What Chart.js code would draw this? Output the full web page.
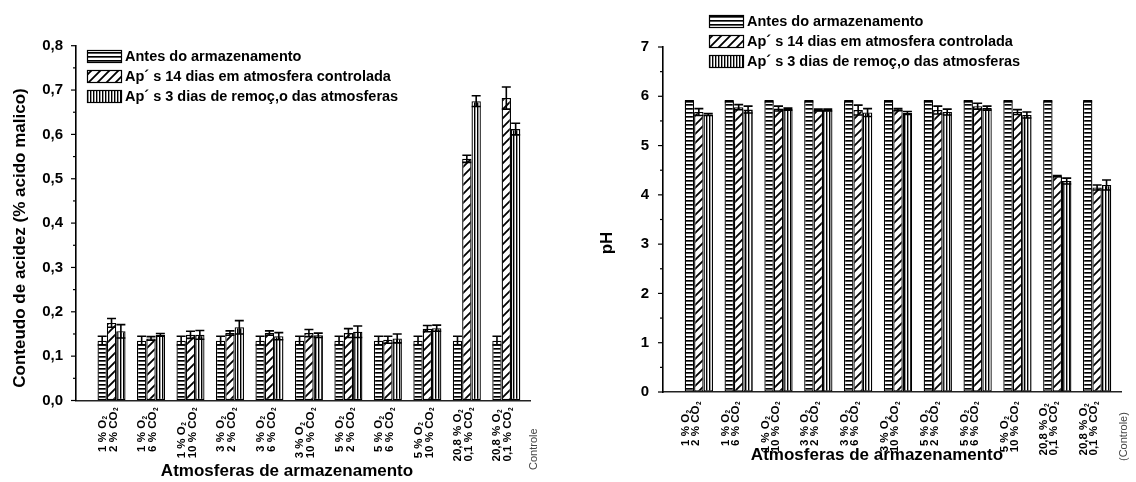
<!DOCTYPE html>
<html lang="pt">
<head>
<meta charset="UTF-8">
<title>Acidez e pH</title>
<script src="https://cdn.jsdelivr.net/npm/chart.js@4.4.1/dist/chart.umd.min.js"></script>
<style>
  html, body { margin: 0; padding: 0; background: #fff; }
  body { width: 1136px; height: 482px; position: relative; overflow: hidden; }
  .painel { position: absolute; top: 0; width: 568px; height: 482px; }
  #painel-acidez { left: 0; }
  #painel-ph { left: 568px; }
</style>
</head>
<body>
<div class="painel" id="painel-acidez"><canvas id="acidez"></canvas></div>
<div class="painel" id="painel-ph"><canvas id="ph"></canvas></div>

<script>
// categorias (O2 / CO2)
const atmosferas = [
  ['1 % O₂', '2 % CO₂'],
  ['1 % O₂', '6 % CO₂'],
  ['1 % O₂', '10 % CO₂'],
  ['3 % O₂', '2 % CO₂'],
  ['3 % O₂', '6 % CO₂'],
  ['3 % O₂', '10 % CO₂'],
  ['5 % O₂', '2 % CO₂'],
  ['5 % O₂', '6 % CO₂'],
  ['5 % O₂', '10 % CO₂'],
  ['20,8 % O₂', '0,1 % CO₂'],
  ['20,8 % O₂', '0,1 % CO₂']
];
const legendas = [
  'Antes do armazenamento',
  'Ap´ s 14 dias em atmosfera controlada',
  'Ap´ s 3 dias de remoç‚o das atmosferas'
];

// acidez (% acido malico)
const acidezAntes = [0.135, 0.135, 0.135, 0.135, 0.135, 0.135, 0.135, 0.135, 0.135, 0.135, 0.135];
const acidezAntesErro = [0.01, 0.01, 0.01, 0.01, 0.01, 0.01, 0.01, 0.01, 0.01, 0.01, 0.01];
const acidez14 = [0.175, 0.140, 0.148, 0.152, 0.152, 0.152, 0.152, 0.137, 0.162, 0.545, 0.682];
const acidez14Erro = [0.010, 0.004, 0.008, 0.005, 0.005, 0.008, 0.010, 0.008, 0.007, 0.008, 0.025];
const acidez3 = [0.156, 0.148, 0.148, 0.165, 0.145, 0.147, 0.155, 0.140, 0.163, 0.675, 0.612];
const acidez3Erro = [0.015, 0.003, 0.010, 0.015, 0.008, 0.005, 0.013, 0.010, 0.007, 0.012, 0.013];

// pH
const phAntes = [5.9, 5.9, 5.9, 5.9, 5.9, 5.9, 5.9, 5.9, 5.9, 5.9, 5.9];
const phAntesErro = [0.01, 0.01, 0.01, 0.01, 0.01, 0.01, 0.01, 0.01, 0.01, 0.01, 0.01];
const ph14 = [5.68, 5.78, 5.75, 5.72, 5.72, 5.73, 5.72, 5.80, 5.68, 4.38, 4.15];
const ph14Erro = [0.07, 0.05, 0.05, 0.02, 0.10, 0.02, 0.08, 0.06, 0.05, 0.01, 0.05];
const ph3 = [5.63, 5.73, 5.74, 5.72, 5.67, 5.66, 5.68, 5.76, 5.62, 4.28, 4.20];
const ph3Erro = [0.02, 0.07, 0.02, 0.02, 0.08, 0.03, 0.06, 0.04, 0.06, 0.06, 0.10];

const FONTE = '"Liberation Sans", Arial, sans-serif';

// padroes de preenchimento das barras
function padrao(tipo) {
  const c = document.createElement('canvas');
  const g = c.getContext('2d');
  if (tipo === 'h') {
    c.width = 4; c.height = 4;
    g.fillStyle = '#fff'; g.fillRect(0, 0, 4, 4);
    g.fillStyle = '#000'; g.fillRect(0, 0, 4, 1);
    g.fillStyle = '#555'; g.fillRect(0, 1, 4, 1);
  } else if (tipo === 'd') {
    c.width = 9; c.height = 9;
    g.fillStyle = '#fff'; g.fillRect(0, 0, 9, 9);
    g.strokeStyle = '#000'; g.lineWidth = 1.8;
    g.beginPath();
    g.moveTo(-1, 10); g.lineTo(10, -1);
    g.moveTo(-1, 1); g.lineTo(1, -1);
    g.moveTo(8, 10); g.lineTo(10, 8);
    g.stroke();
  } else {
    c.width = 3; c.height = 3;
    g.fillStyle = '#fff'; g.fillRect(0, 0, 3, 3);
    g.fillStyle = '#000'; g.fillRect(0, 0, 1, 3);
    g.fillStyle = '#999'; g.fillRect(1, 0, 1, 3);
  }
  return document.createElement('canvas').getContext('2d').createPattern(c, 'repeat');
}
const padroes = [padrao('h'), padrao('d'), padrao('v')];

// texto com subscrito "2"
function textoSub(ctx, s, x, y, fonte, fonteSub) {
  const partes = s.split('₂');
  let px = x;
  partes.forEach((p, k) => {
    ctx.font = fonte;
    ctx.fillText(p, px, y);
    px += ctx.measureText(p).width;
    if (k < partes.length - 1) {
      ctx.font = fonteSub;
      ctx.fillText('2', px + 0.5, y + 3);
      px += ctx.measureText('2').width + 1;
    }
  });
  return px - x;
}
function larguraSub(ctx, s, fonte, fonteSub) {
  const partes = s.split('₂');
  let w = 0;
  partes.forEach((p, k) => {
    ctx.font = fonte; w += ctx.measureText(p).width;
    if (k < partes.length - 1) { ctx.font = fonteSub; w += ctx.measureText('2').width + 1; }
  });
  return w;
}

const deco = {
  id: 'deco',
  afterDatasetsDraw(chart) {
    const ctx = chart.ctx;
    const y = chart.scales.y;
    ctx.save();
    ctx.strokeStyle = '#000';
    ctx.lineWidth = 1.6;
    chart.data.datasets.forEach((ds, d) => {
      chart.getDatasetMeta(d).data.forEach((bar, i) => {
        const v = ds.data[i].y, e = ds.erro[i];
        const yt = y.getPixelForValue(v + e), yb = y.getPixelForValue(v - e);
        ctx.beginPath();
        ctx.moveTo(bar.x, yt); ctx.lineTo(bar.x, yb);
        ctx.moveTo(bar.x - 4.5, yt); ctx.lineTo(bar.x + 4.5, yt);
        ctx.moveTo(bar.x - 4.5, yb); ctx.lineTo(bar.x + 4.5, yb);
        ctx.stroke();
      });
    });
    ctx.restore();
  },
  afterDraw(chart, args, o) {
    const ctx = chart.ctx;
    const xs = chart.scales.x, ys = chart.scales.y;
    const area = chart.chartArea;
    ctx.save();

    // tracos do eixo y (maiores e menores)
    ctx.strokeStyle = '#000';
    ctx.lineWidth = 1.2;
    ys.ticks.forEach(t => {
      const py = ys.getPixelForValue(t.value);
      const len = t.label === '' ? 3 : 5;
      ctx.beginPath();
      ctx.moveTo(area.left - len, py); ctx.lineTo(area.left, py);
      ctx.stroke();
    });

    // rotulos das categorias, girados
    ctx.fillStyle = '#000';
    ctx.textBaseline = 'middle';
    ctx.textAlign = 'left';
    const f = 'bold 11.5px ' + FONTE, fs = 'bold 6.5px ' + FONTE;
    atmosferas.forEach((linhas, i) => {
      const cx = xs.getPixelForValue(i);
      const bloco = Math.max(...linhas.map(s => larguraSub(ctx, s, f, fs)));
      const base = o.rotuloTopo + bloco;
      linhas.forEach((s, k) => {
        ctx.save();
        ctx.translate(cx + o.rotuloDx[k], base);
        ctx.rotate(-Math.PI / 2);
        textoSub(ctx, s, 0, 0, f, fs);
        ctx.restore();
      });
    });
    // rotulo extra do controle
    ctx.save();
    ctx.fillStyle = '#444';
    ctx.font = '11px ' + FONTE;
    ctx.translate(xs.getPixelForValue(atmosferas.length - 1) + o.controle.dx, o.controle.base);
    ctx.rotate(-Math.PI / 2);
    ctx.fillText(o.controle.texto, 0, 0);
    ctx.restore();

    // titulos dos eixos
    ctx.fillStyle = '#000';
    ctx.textAlign = 'center';
    ctx.font = 'bold 17px ' + FONTE;
    ctx.fillText(o.tituloX.texto, o.tituloX.x, o.tituloX.y);
    ctx.save();
    ctx.translate(o.tituloY.x, o.tituloY.y);
    ctx.rotate(-Math.PI / 2);
    ctx.fillText(o.tituloY.texto, 0, 0);
    ctx.restore();

    // legenda
    ctx.textAlign = 'left';
    ctx.font = 'bold 14.5px ' + FONTE;
    legendas.forEach((txt, i) => {
      const ly = o.legenda.y + i * 20;
      ctx.fillStyle = padroes[i];
      ctx.fillRect(o.legenda.x, ly - 6, 34, 12);
      ctx.strokeStyle = '#000'; ctx.lineWidth = 1.2;
      ctx.strokeRect(o.legenda.x + 0.5, ly - 5.5, 34, 12);
      ctx.fillStyle = '#000';
      ctx.fillText(txt, o.legenda.x + 38, ly + 1);
    });
    ctx.restore();
  }
};

function grafico(id, series, erros, eixo, deco_op) {
  const datasets = series.map((vals, d) => ({
    label: legendas[d],
    data: vals.map((v, i) => ({ x: i, y: v })),
    erro: erros[d],
    backgroundColor: padroes[d],
    borderColor: '#000',
    borderWidth: 1.3,
    borderSkipped: false,
    categoryPercentage: 0.71,
    barPercentage: 1.0
  }));
  return new Chart(document.getElementById(id), {
    type: 'bar',
    data: { datasets: datasets },
    options: {
      responsive: true,
      maintainAspectRatio: false,
      animation: false,
      events: [],
      layout: { padding: eixo.padding },
      plugins: {
        legend: { display: false },
        tooltip: { enabled: false },
        deco: deco_op
      },
      scales: {
        x: {
          type: 'linear',
          min: -0.9,
          max: 10.6,
          offset: false,
          ticks: { display: false },
          grid: { display: false },
          border: { display: true, color: '#222', width: 1.6 },
          afterFit(s) { s.height = eixo.alturaX; }
        },
        y: {
          min: 0,
          max: eixo.max,
          ticks: {
            stepSize: eixo.passo,
            padding: eixo.padTick,
            color: '#000',
            font: { family: FONTE, size: 15, weight: 'bold' },
            callback: eixo.rotulo
          },
          grid: { display: true, drawOnChartArea: false, drawTicks: false },
          border: { display: true, color: '#000', width: 1.6 },
          afterFit(s) { s.width = eixo.larguraY; }
        }
      }
    },
    plugins: [deco]
  });
}

grafico('acidez',
  [acidezAntes, acidez14, acidez3],
  [acidezAntesErro, acidez14Erro, acidez3Erro],
  {
    max: 0.8, passo: 0.05, padTick: 13,
    padding: { left: 0, right: 38, top: 45.7, bottom: 0 },
    alturaX: 81.5, larguraY: 76,
    rotulo: v => Math.abs(v * 10 - Math.round(v * 10)) < 1e-6 ? v.toFixed(1).replace('.', ',') : ''
  },
  {
    rotuloTopo: 407, rotuloDx: [-9, 2],
    controle: { texto: 'Controle', dx: 28, base: 470 },
    tituloX: { texto: 'Atmosferas de armazenamento', x: 287, y: 471 },
    tituloY: { texto: 'Conteudo de acidez (% acido malico)', x: 20, y: 238 },
    legenda: { x: 87, y: 56 }
  });

grafico('ph',
  [phAntes, ph14, ph3],
  [phAntesErro, ph14Erro, ph3Erro],
  {
    max: 7, passo: 0.5, padTick: 14,
    padding: { left: 0, right: 15, top: 47, bottom: 0 },
    alturaX: 90, larguraY: 95,
    rotulo: v => Number.isInteger(v) ? String(v) : ''
  },
  {
    rotuloTopo: 401, rotuloDx: [-13, -3],
    controle: { texto: '(Controle)', dx: 27, base: 461 },
    tituloX: { texto: 'Atmosferas de armazenamento', x: 309, y: 455 },
    tituloY: { texto: 'pH', x: 39, y: 243 },
    legenda: { x: 141, y: 21 }
  });
</script>
</body>
</html>
